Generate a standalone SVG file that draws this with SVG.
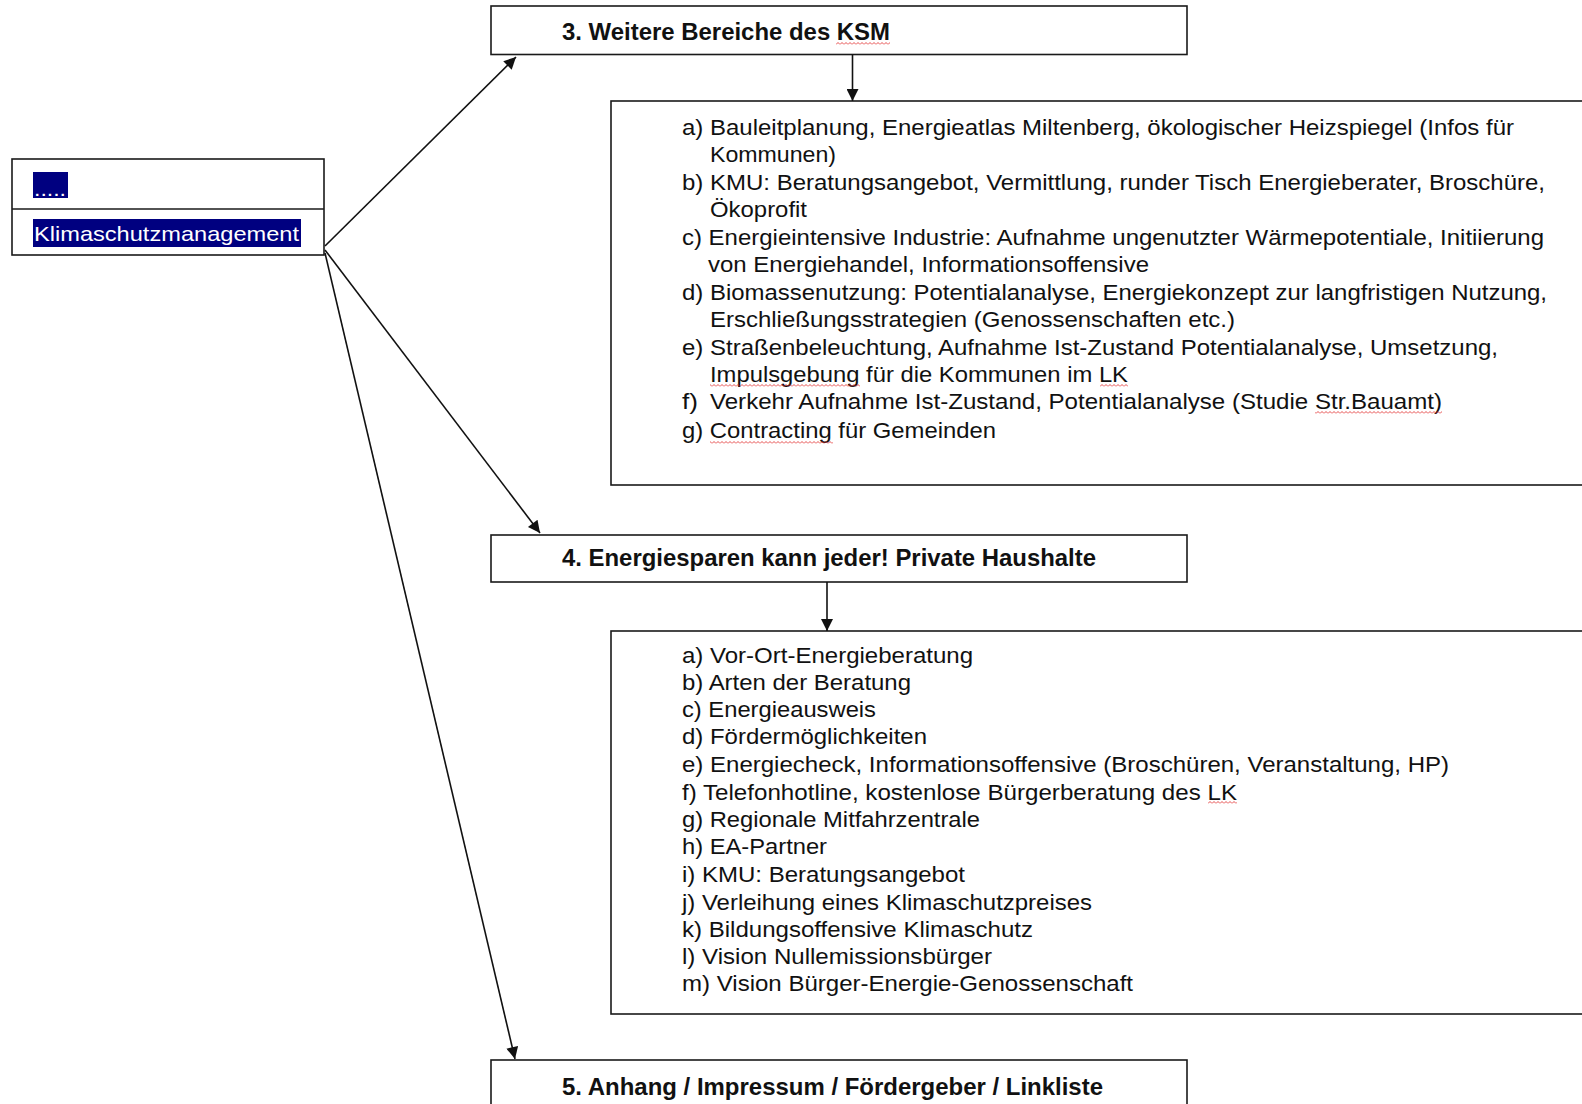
<svg xmlns="http://www.w3.org/2000/svg" width="1582" height="1104" viewBox="0 0 1582 1104">
<style>
.box{fill:#fff;stroke:#1a1a1a;stroke-width:1.6}
.hd{font-family:"Liberation Sans",Arial,sans-serif;font-weight:bold;font-size:24px;fill:#111}
.tx{font-family:"Liberation Sans",Arial,sans-serif;font-size:21.5px;fill:#111}
.hl{fill:#000080}
.hlt{font-family:"Liberation Sans",Arial,sans-serif;font-size:21px;fill:#fff}
.con{stroke:#111;stroke-width:1.6;fill:none}
.sq{fill:url(#wave)}
</style>
<defs>
<marker id="ah" viewBox="0 0 10 10" refX="10" refY="5" markerWidth="17" markerHeight="12" markerUnits="userSpaceOnUse" orient="auto">
<path d="M0,0 L10,5 L0,10 z" fill="#111"/>
</marker>
<pattern id="wave" x="0" y="0" width="4" height="3" patternUnits="userSpaceOnUse">
<polyline points="0,2.5 2,0.5 4,2.5" fill="none" stroke="#e02020" stroke-width="0.8"/>
</pattern>
</defs>
<rect width="1582" height="1104" fill="#fff"/>

<g id="node-root">
<rect class="box" x="12" y="159" width="312" height="96"/>
<line x1="12" y1="209" x2="324" y2="209" stroke="#1a1a1a" stroke-width="1.6"/>
<rect class="hl" x="33" y="172" width="35" height="26"/>
<text class="hlt" x="34" y="196" textLength="32" lengthAdjust="spacingAndGlyphs" font-size="14">.....</text>
<rect class="hl" x="33" y="219" width="268" height="28"/>
<text class="hlt" x="34" y="241" textLength="265" lengthAdjust="spacingAndGlyphs">Klimaschutzmanagement</text>
</g>

<g id="node-3">
<rect class="box" x="491" y="6" width="696" height="48.5"/>
<text class="hd" x="562" y="40" textLength="328" lengthAdjust="spacingAndGlyphs">3. Weitere Bereiche des KSM</text>
<rect class="sq" x="836" y="42" width="54" height="3"/>
</g>

<g id="node-3-list">
<rect class="box" x="611" y="101" width="1000" height="384"/>
<text class="tx" x="682" y="135" textLength="832" lengthAdjust="spacingAndGlyphs">a) Bauleitplanung, Energieatlas Miltenberg, ökologischer Heizspiegel (Infos für</text>
<text class="tx" x="710" y="162" textLength="126" lengthAdjust="spacingAndGlyphs">Kommunen)</text>
<text class="tx" x="682" y="190" textLength="863" lengthAdjust="spacingAndGlyphs">b) KMU: Beratungsangebot, Vermittlung, runder Tisch Energieberater, Broschüre,</text>
<text class="tx" x="710" y="217" textLength="97" lengthAdjust="spacingAndGlyphs">Ökoprofit</text>
<text class="tx" x="682" y="245" textLength="862" lengthAdjust="spacingAndGlyphs">c) Energieintensive Industrie: Aufnahme ungenutzter Wärmepotentiale, Initiierung</text>
<text class="tx" x="708" y="272" textLength="441" lengthAdjust="spacingAndGlyphs">von Energiehandel, Informationsoffensive</text>
<text class="tx" x="682" y="300" textLength="865" lengthAdjust="spacingAndGlyphs">d) Biomassenutzung: Potentialanalyse, Energiekonzept zur langfristigen Nutzung,</text>
<text class="tx" x="710" y="327" textLength="525" lengthAdjust="spacingAndGlyphs">Erschließungsstrategien (Genossenschaften etc.)</text>
<text class="tx" x="682" y="355" textLength="816" lengthAdjust="spacingAndGlyphs">e) Straßenbeleuchtung, Aufnahme Ist-Zustand Potentialanalyse, Umsetzung,</text>
<text class="tx" x="710" y="382" textLength="418" lengthAdjust="spacingAndGlyphs">Impulsgebung für die Kommunen im LK</text>
<text class="tx" x="682" y="409" textLength="16" lengthAdjust="spacingAndGlyphs">f)</text>
<text class="tx" x="710" y="409" textLength="732" lengthAdjust="spacingAndGlyphs">Verkehr Aufnahme Ist-Zustand, Potentialanalyse (Studie Str.Bauamt)</text>
<text class="tx" x="682" y="438" textLength="314" lengthAdjust="spacingAndGlyphs">g) Contracting für Gemeinden</text>
<rect class="sq" x="710" y="384" width="150" height="3"/>
<rect class="sq" x="1100" y="384" width="28" height="3"/>
<rect class="sq" x="1315" y="411" width="127" height="3"/>
<rect class="sq" x="710" y="441" width="123" height="3"/>
</g>

<g id="node-4">
<rect class="box" x="491" y="535" width="696" height="47"/>
<text class="hd" x="562" y="566" textLength="534" lengthAdjust="spacingAndGlyphs">4. Energiesparen kann jeder! Private Haushalte</text>
</g>

<g id="node-4-list">
<rect class="box" x="611" y="631" width="1000" height="383"/>
<text class="tx" x="682" y="663" textLength="291" lengthAdjust="spacingAndGlyphs">a) Vor-Ort-Energieberatung</text>
<text class="tx" x="682" y="690" textLength="229" lengthAdjust="spacingAndGlyphs">b) Arten der Beratung</text>
<text class="tx" x="682" y="717" textLength="194" lengthAdjust="spacingAndGlyphs">c) Energieausweis</text>
<text class="tx" x="682" y="744" textLength="245" lengthAdjust="spacingAndGlyphs">d) Fördermöglichkeiten</text>
<text class="tx" x="682" y="772" textLength="767" lengthAdjust="spacingAndGlyphs">e) Energiecheck, Informationsoffensive (Broschüren, Veranstaltung, HP)</text>
<text class="tx" x="682" y="800" textLength="555" lengthAdjust="spacingAndGlyphs">f) Telefonhotline, kostenlose Bürgerberatung des LK</text>
<text class="tx" x="682" y="827" textLength="298" lengthAdjust="spacingAndGlyphs">g) Regionale Mitfahrzentrale</text>
<text class="tx" x="682" y="854" textLength="145" lengthAdjust="spacingAndGlyphs">h) EA-Partner</text>
<text class="tx" x="682" y="882" textLength="283" lengthAdjust="spacingAndGlyphs">i) KMU: Beratungsangebot</text>
<text class="tx" x="682" y="910" textLength="410" lengthAdjust="spacingAndGlyphs">j) Verleihung eines Klimaschutzpreises</text>
<text class="tx" x="682" y="937" textLength="351" lengthAdjust="spacingAndGlyphs">k) Bildungsoffensive Klimaschutz</text>
<text class="tx" x="682" y="964" textLength="310" lengthAdjust="spacingAndGlyphs">l) Vision Nullemissionsbürger</text>
<text class="tx" x="682" y="991" textLength="451" lengthAdjust="spacingAndGlyphs">m) Vision Bürger-Energie-Genossenschaft</text>
<rect class="sq" x="1208" y="801" width="29" height="3"/>
</g>

<g id="node-5">
<rect class="box" x="491" y="1060" width="696" height="60"/>
<text class="hd" x="562" y="1095" textLength="541" lengthAdjust="spacingAndGlyphs">5. Anhang / Impressum / Fördergeber / Linkliste</text>
</g>

<g id="connectors">
<line class="con" x1="325" y1="246" x2="516" y2="57" marker-end="url(#ah)"/>
<line class="con" x1="325" y1="250" x2="540" y2="533" marker-end="url(#ah)"/>
<line class="con" x1="325" y1="253" x2="515" y2="1059" marker-end="url(#ah)"/>
<line class="con" x1="852.5" y1="54.5" x2="852.5" y2="101" marker-end="url(#ah)"/>
<line class="con" x1="827" y1="582" x2="827" y2="631" marker-end="url(#ah)"/>
</g>
</svg>
